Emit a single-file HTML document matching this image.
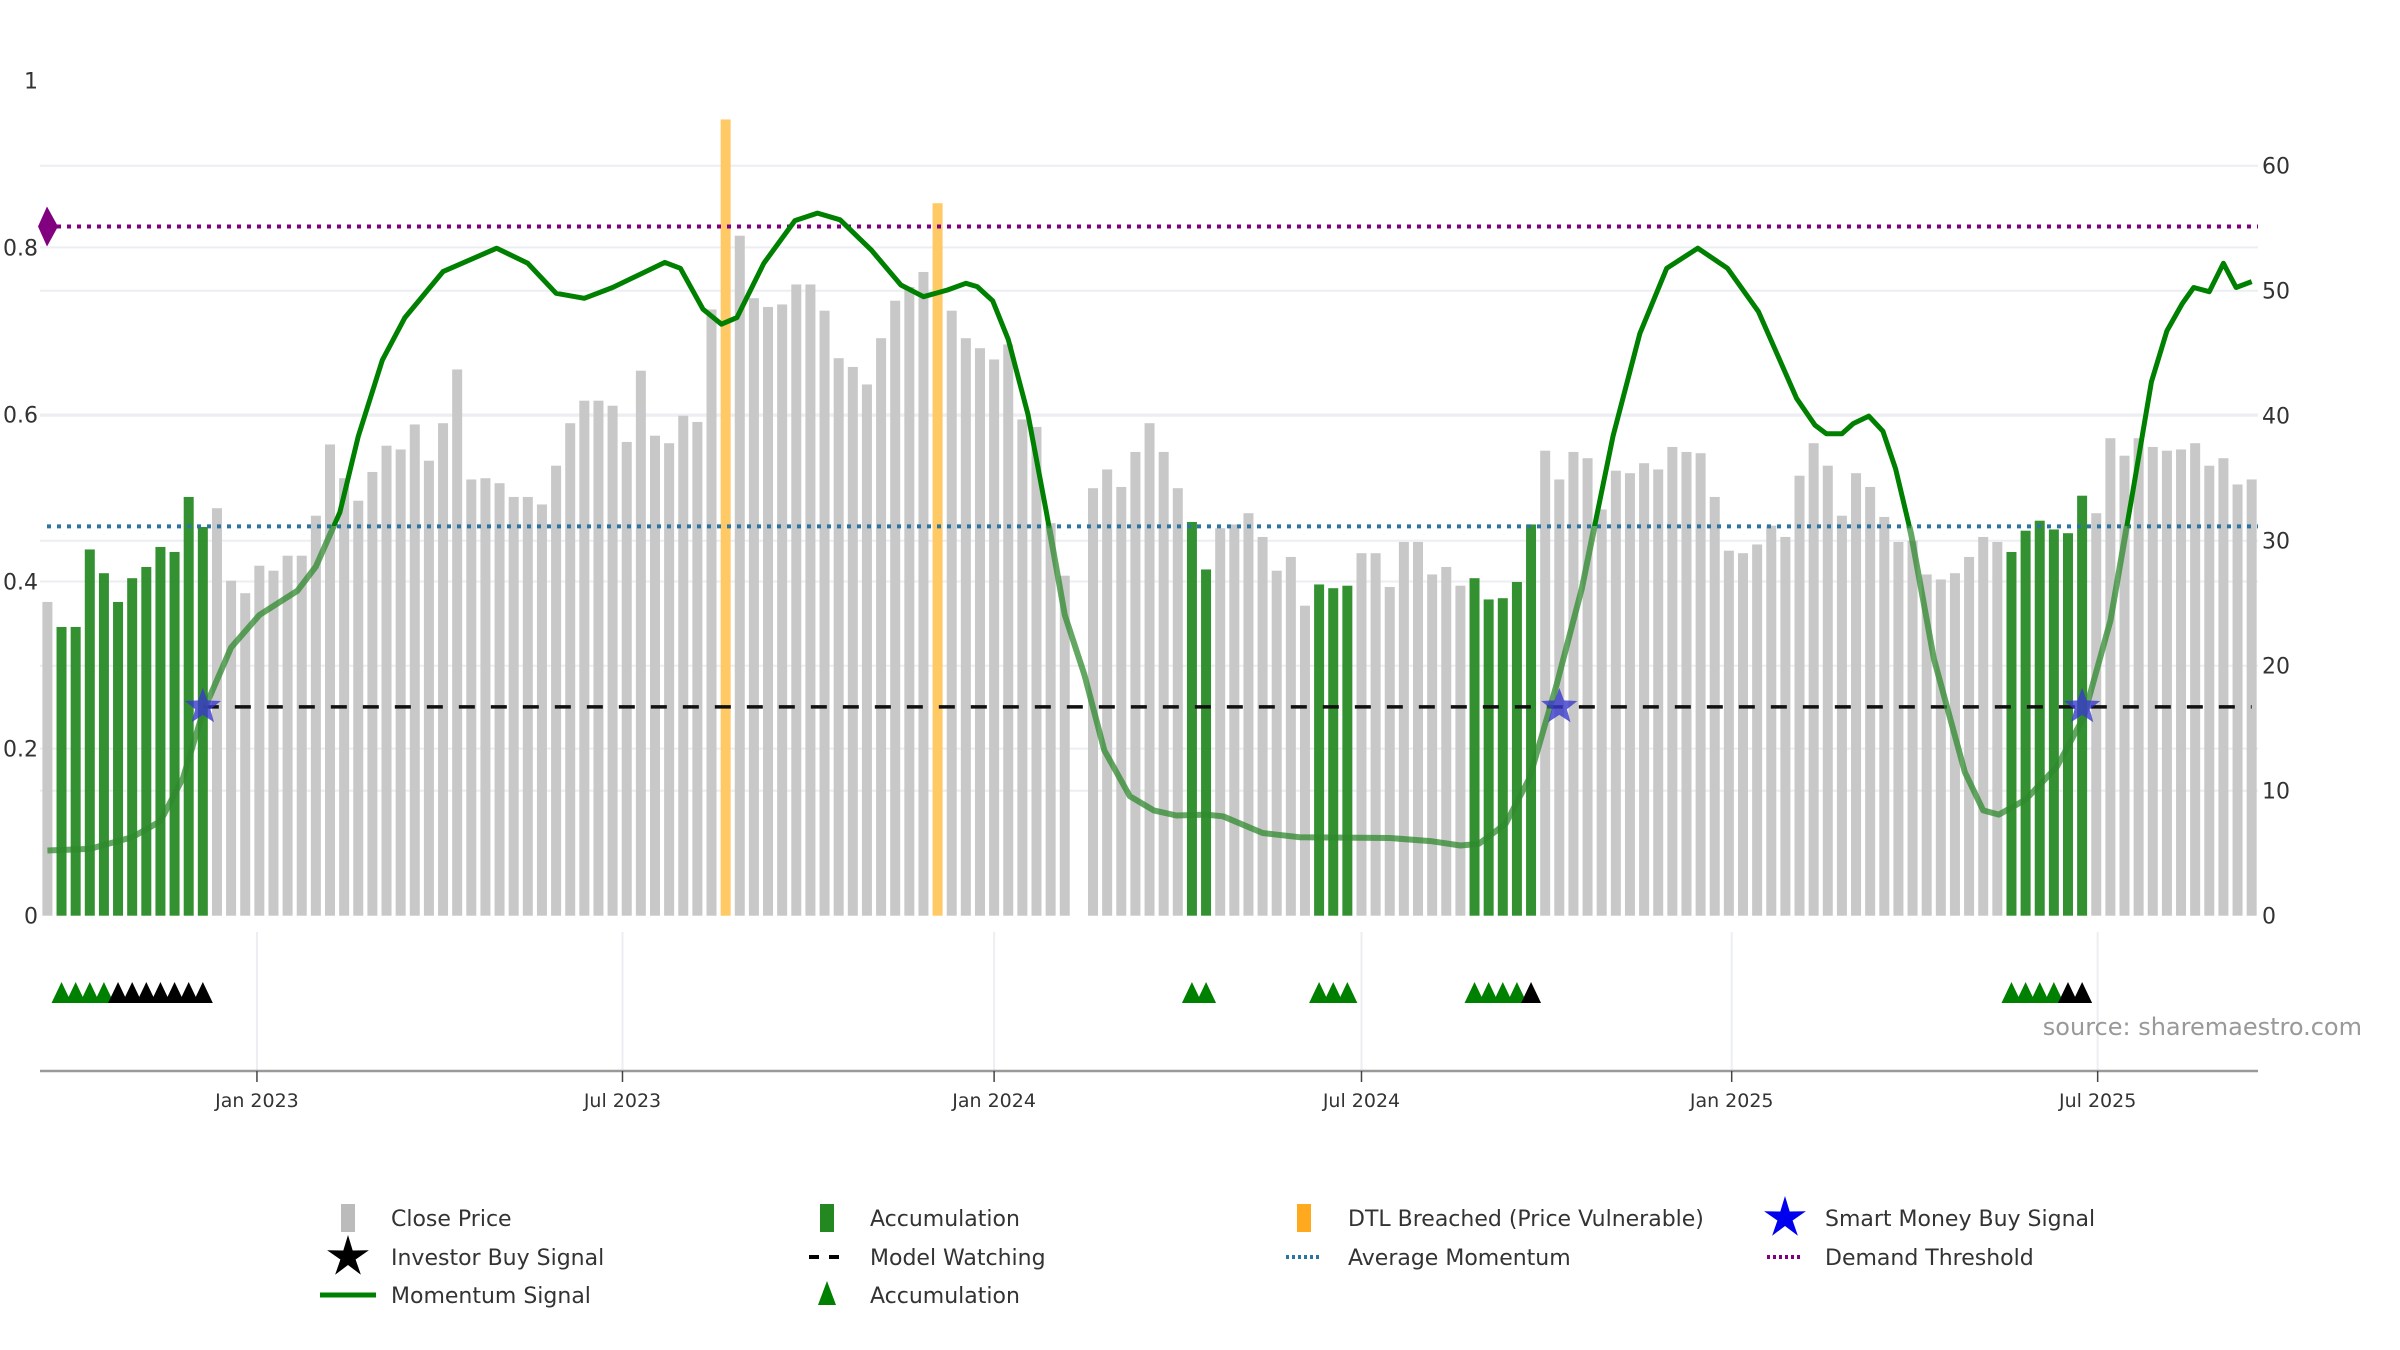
<!DOCTYPE html>
<html><head><meta charset="utf-8"><style>
html,body{margin:0;padding:0;background:#fff;}
svg{display:block;font-family:"DejaVu Sans","Liberation Sans",sans-serif;}
</style></head><body>
<svg id="chart" width="2400" height="1350" viewBox="0 0 2400 1350" xmlns="http://www.w3.org/2000/svg">
<defs>
<clipPath id="aboveAvg"><rect x="0" y="0" width="2400" height="526"/></clipPath>
<clipPath id="belowAvg"><rect x="0" y="526" width="2400" height="500"/></clipPath>
</defs>
<g id="grid"></g>
<g id="bars"></g>
<g id="lines"></g>
<g id="mom"></g>
<g id="marks"></g>
<g id="axes"></g>
<text x="2362" y="1035" text-anchor="end" font-size="24" fill="#999">source: sharemaestro.com</text>
<g id="legend"></g>
</svg>
<script>
// ---- data ----
const prices = [25.1,23.1,23.1,29.3,27.4,25.1,27.0,27.9,29.5,29.1,33.5,31.1,32.6,26.8,25.8,28.0,27.6,28.8,28.8,32.0,
37.7,35.0,33.2,35.5,37.6,37.3,39.3,36.4,39.4,43.7,34.9,35.0,34.6,33.5,33.5,32.9,36.0,39.4,41.2,41.2,
40.8,37.9,43.6,38.4,37.8,40.0,39.5,48.5,63.7,54.4,49.4,48.7,48.9,50.5,50.5,48.4,44.6,43.9,42.5,46.2,
49.2,50.3,51.5,57.0,48.4,46.2,45.4,44.5,45.7,39.7,39.1,31.4,27.2,null,34.2,35.7,34.3,37.1,39.4,37.1,
34.2,31.5,27.7,31.0,31.3,32.2,30.3,27.6,28.7,24.8,26.5,26.2,26.4,29.0,29.0,26.3,29.9,29.9,27.3,27.9,
26.4,27.0,25.3,25.4,26.7,31.3,37.2,34.9,37.1,36.6,32.5,35.6,35.4,36.2,35.7,37.5,37.1,37.0,33.5,29.2,
29.0,29.7,31.2,30.3,35.2,37.8,36.0,32.0,35.4,34.3,31.9,29.9,30.0,27.3,26.9,27.4,28.7,30.3,29.9,29.1,
30.8,31.6,30.9,30.6,33.6,32.2,38.2,36.8,38.2,37.5,37.2,37.3,37.8,36.0,36.6,34.5,34.9];
const accumBars = [2,3,4,5,6,7,8,9,10,11,12,82,83,91,92,93,102,103,104,105,106,140,141,142,143,144,145];
const dtlBars = [49,64];
const momIdx = [1,4,7,9,10.6,12,14,16,18.7,20,21.7,23,24.7,26.3,29,32.8,35,37,39,41,44.7,45.8,47.4,48.7,49.8,51.7,53.9,55.5,57.1,59.3,61.4,63,64.7,66,66.8,67.9,69,70.4,71.7,73,74.4,75.8,77.6,79.3,80.9,83,84.2,87,89.6,96,99,101,102.3,104.2,105.9,107.8,109.6,111.8,113.7,115.6,117.8,119.9,122.1,124.8,126.1,126.9,128,128.8,129.9,130.9,131.8,132.9,134.5,136.7,138,139.1,141,143.2,145.1,147,148.6,149.9,151,152.1,152.9,154,155,155.9,157];
const momVal = [0.078,0.08,0.094,0.113,0.165,0.243,0.321,0.36,0.389,0.418,0.483,0.574,0.665,0.716,0.771,0.799,0.781,0.745,0.739,0.752,0.782,0.775,0.726,0.708,0.716,0.781,0.832,0.841,0.833,0.797,0.755,0.741,0.749,0.757,0.753,0.736,0.69,0.6,0.483,0.36,0.288,0.198,0.143,0.126,0.12,0.121,0.119,0.099,0.094,0.093,0.089,0.084,0.086,0.11,0.165,0.276,0.392,0.574,0.697,0.775,0.799,0.775,0.723,0.619,0.587,0.577,0.577,0.589,0.598,0.58,0.535,0.457,0.308,0.172,0.126,0.121,0.139,0.178,0.237,0.353,0.509,0.639,0.70,0.733,0.752,0.747,0.781,0.752,0.759];
const avgMomentum = 0.466;
const demandThreshold = 0.825;
const modelWatching = 0.25;
const smartMoneyBars = [12,108,145];
const greenTriBars = [2,3,4,5,82,83,91,92,93,102,103,104,105,140,141,142,143];
const blackTriBars = [6,7,8,9,10,11,12,106,144,145];
const leftTicks = [0,0.2,0.4,0.6,0.8,1];
const leftTickLabels = ["0","0.2","0.4","0.6","0.8","1"];
const rightTicks = [0,10,20,30,40,50,60];
const xTickIdx = [15.83,41.7,68.0,94.0,120.2,146.1];
const xTickLabels = ["Jan 2023","Jul 2023","Jan 2024","Jul 2024","Jan 2025","Jul 2025"];

// ---- scales ----
const X0=47.4, DX=14.13, Y0=915.7;
const xS = i => X0 + (i-1)*DX;
const yL = v => Y0 - v*835.4;
const yR = v => Y0 - v*12.5;
const NS="http://www.w3.org/2000/svg";
function mk(tag, attrs, parent){const e=document.createElementNS(NS,tag);for(const k in attrs)e.setAttribute(k,attrs[k]);parent.appendChild(e);return e;}
const G=id=>document.getElementById(id);

// grid
for(const v of leftTicks){ if(v===0||v===1) continue;
  const l=mk('line',{x1:40,x2:2258,y1:yL(v),y2:yL(v),stroke:'#eceef2','stroke-width':2},G('grid'));
  
  
}
for(const v of rightTicks){ if(v===0) continue;
  const l=mk('line',{x1:40,x2:2258,y1:yR(v),y2:yR(v),stroke:'#eceef2','stroke-width':2},G('grid'));
  
  
}
xTickIdx.forEach(i=>{
  const l=mk('line',{x1:xS(i),x2:xS(i),y1:932,y2:1071,stroke:'#eceef2','stroke-width':2},G('grid'));
  
  
});

// bars
prices.forEach((p,k)=>{
  if(p===null) return;
  const i=k+1;
  let fill='#c8c8c8', name='close-price-bar';
  if(accumBars.includes(i)){fill='#23881f';name='accumulation-bar';}
  if(dtlBars.includes(i)){fill='#ffc966';name='dtl-breached-bar';}
  const r=mk('rect',{x:xS(i)-5,y:yR(p),width:10,height:Y0-yR(p),fill:fill,opacity:accumBars.includes(i)?0.92:1},G('bars'));
  
  
});

// reference lines
let ln=mk('line',{x1:47,x2:2258,y1:yL(demandThreshold),y2:yL(demandThreshold),stroke:'#800080','stroke-width':4,'stroke-dasharray':'4,6'},G('lines'));


const dy=yL(demandThreshold);
ln=mk('path',{d:`M47 ${dy-20} L58 ${dy} L47 ${dy+20} L38 ${dy} Z`,fill:'#800080'},G('lines'));


ln=mk('line',{x1:47,x2:2258,y1:yL(avgMomentum),y2:yL(avgMomentum),stroke:'#2b75a0','stroke-width':4,'stroke-dasharray':'4,6'},G('lines'));


ln=mk('line',{x1:xS(12),x2:xS(157),y1:yL(modelWatching),y2:yL(modelWatching),stroke:'#111','stroke-width':3.5,'stroke-dasharray':'16,16'},G('lines'));



// momentum
const pts=momIdx.map((ix,k)=>`${xS(ix).toFixed(1)},${yL(momVal[k]).toFixed(1)}`).join(' ');
let m=mk('polyline',{points:pts,fill:'none',stroke:'#2f8a2f','stroke-width':6,opacity:0.75,'stroke-linejoin':'round','clip-path':'url(#belowAvg)'},G('mom'));


m=mk('polyline',{points:pts,fill:'none',stroke:'#008000','stroke-width':5,'stroke-linejoin':'round','clip-path':'url(#aboveAvg)'},G('mom'));



// stars
function starPath(cx,cy,R,r){let d='';for(let k=0;k<10;k++){const a=-Math.PI/2+k*Math.PI/5;const rr=k%2?r:R;d+=(k?'L':'M')+(cx+rr*Math.cos(a)).toFixed(1)+' '+(cy+rr*Math.sin(a)).toFixed(1);}return d+'Z';}
smartMoneyBars.forEach(i=>{
  const s=mk('path',{d:starPath(xS(i),yL(modelWatching),19,8),fill:'#3a3acc',opacity:0.8},G('marks'));
  
  
});
function tri(i,color){
  const x=xS(i);
  const t=mk('path',{d:`M${x} 982 L${x+10} 1003 L${x-10} 1003 Z`,fill:color},G('marks'));
  
  
}
greenTriBars.forEach(i=>tri(i,'#008000'));
blackTriBars.forEach(i=>tri(i,'#000'));

// axes
leftTicks.forEach((v,k)=>{
  const t=mk('text',{x:38,y:yL(v)+8,'text-anchor':'end','font-size':22,fill:'#333'},G('axes'));
  t.textContent=leftTickLabels[k];
  
  
});
rightTicks.forEach(v=>{
  const t=mk('text',{x:2262,y:yR(v)+8,'font-size':22,fill:'#333'},G('axes'));
  t.textContent=String(v);
  
  
});
let ax=mk('line',{x1:40,x2:2258,y1:1071,y2:1071,stroke:'#999','stroke-width':2.5},G('axes'));


xTickIdx.forEach((i,k)=>{
  const tk=mk('line',{x1:xS(i),x2:xS(i),y1:1071,y2:1082,stroke:'#444','stroke-width':1.5},G('axes'));
  
  
  const t=mk('text',{x:xS(i),y:1107,'text-anchor':'middle','font-size':19,fill:'#333'},G('axes'));
  t.textContent=xTickLabels[k];
  
  
});

// legend
const L=G('legend');
function legText(x,y,s){const t=mk('text',{x:x,y:y+8,'font-size':22,fill:'#333'},L);t.textContent=s;}
const rows=[1218,1257,1295], cols=[348,827,1304,1785], tx=[391,870,1348,1825];
let e;
e=mk('rect',{x:cols[0]-7,y:rows[0]-14,width:14,height:28,fill:'#bbb'},L);legText(tx[0],rows[0],'Close Price');
e=mk('rect',{x:cols[1]-7,y:rows[0]-14,width:14,height:28,fill:'#23881f'},L);legText(tx[1],rows[0],'Accumulation');
e=mk('rect',{x:cols[2]-7,y:rows[0]-14,width:14,height:28,fill:'#ffa91f'},L);legText(tx[2],rows[0],'DTL Breached (Price Vulnerable)');
e=mk('path',{d:starPath(cols[3],rows[0],22,8),fill:'#0000ee'},L);legText(tx[3],rows[0],'Smart Money Buy Signal');
e=mk('path',{d:starPath(cols[0],rows[1],22,8),fill:'#000'},L);legText(tx[0],rows[1],'Investor Buy Signal');
e=mk('line',{x1:cols[1]-18,x2:cols[1]+18,y1:rows[1],y2:rows[1],stroke:'#000','stroke-width':4,'stroke-dasharray':'10,10'},L);legText(tx[1],rows[1],'Model Watching');
e=mk('line',{x1:cols[2]-18,x2:cols[2]+18,y1:rows[1],y2:rows[1],stroke:'#2b75a0','stroke-width':4,'stroke-dasharray':'3,3'},L);legText(tx[2],rows[1],'Average Momentum');
e=mk('line',{x1:cols[3]-18,x2:cols[3]+18,y1:rows[1],y2:rows[1],stroke:'#800080','stroke-width':4,'stroke-dasharray':'3,3'},L);legText(tx[3],rows[1],'Demand Threshold');
e=mk('line',{x1:cols[0]-28,x2:cols[0]+28,y1:rows[2],y2:rows[2],stroke:'#008000','stroke-width':5},L);legText(tx[0],rows[2],'Momentum Signal');
e=mk('path',{d:`M${cols[1]} ${rows[2]-14} L${cols[1]+9} ${rows[2]+10} L${cols[1]-9} ${rows[2]+10} Z`,fill:'#008000'},L);legText(tx[1],rows[2],'Accumulation');
</script>
</body></html>
